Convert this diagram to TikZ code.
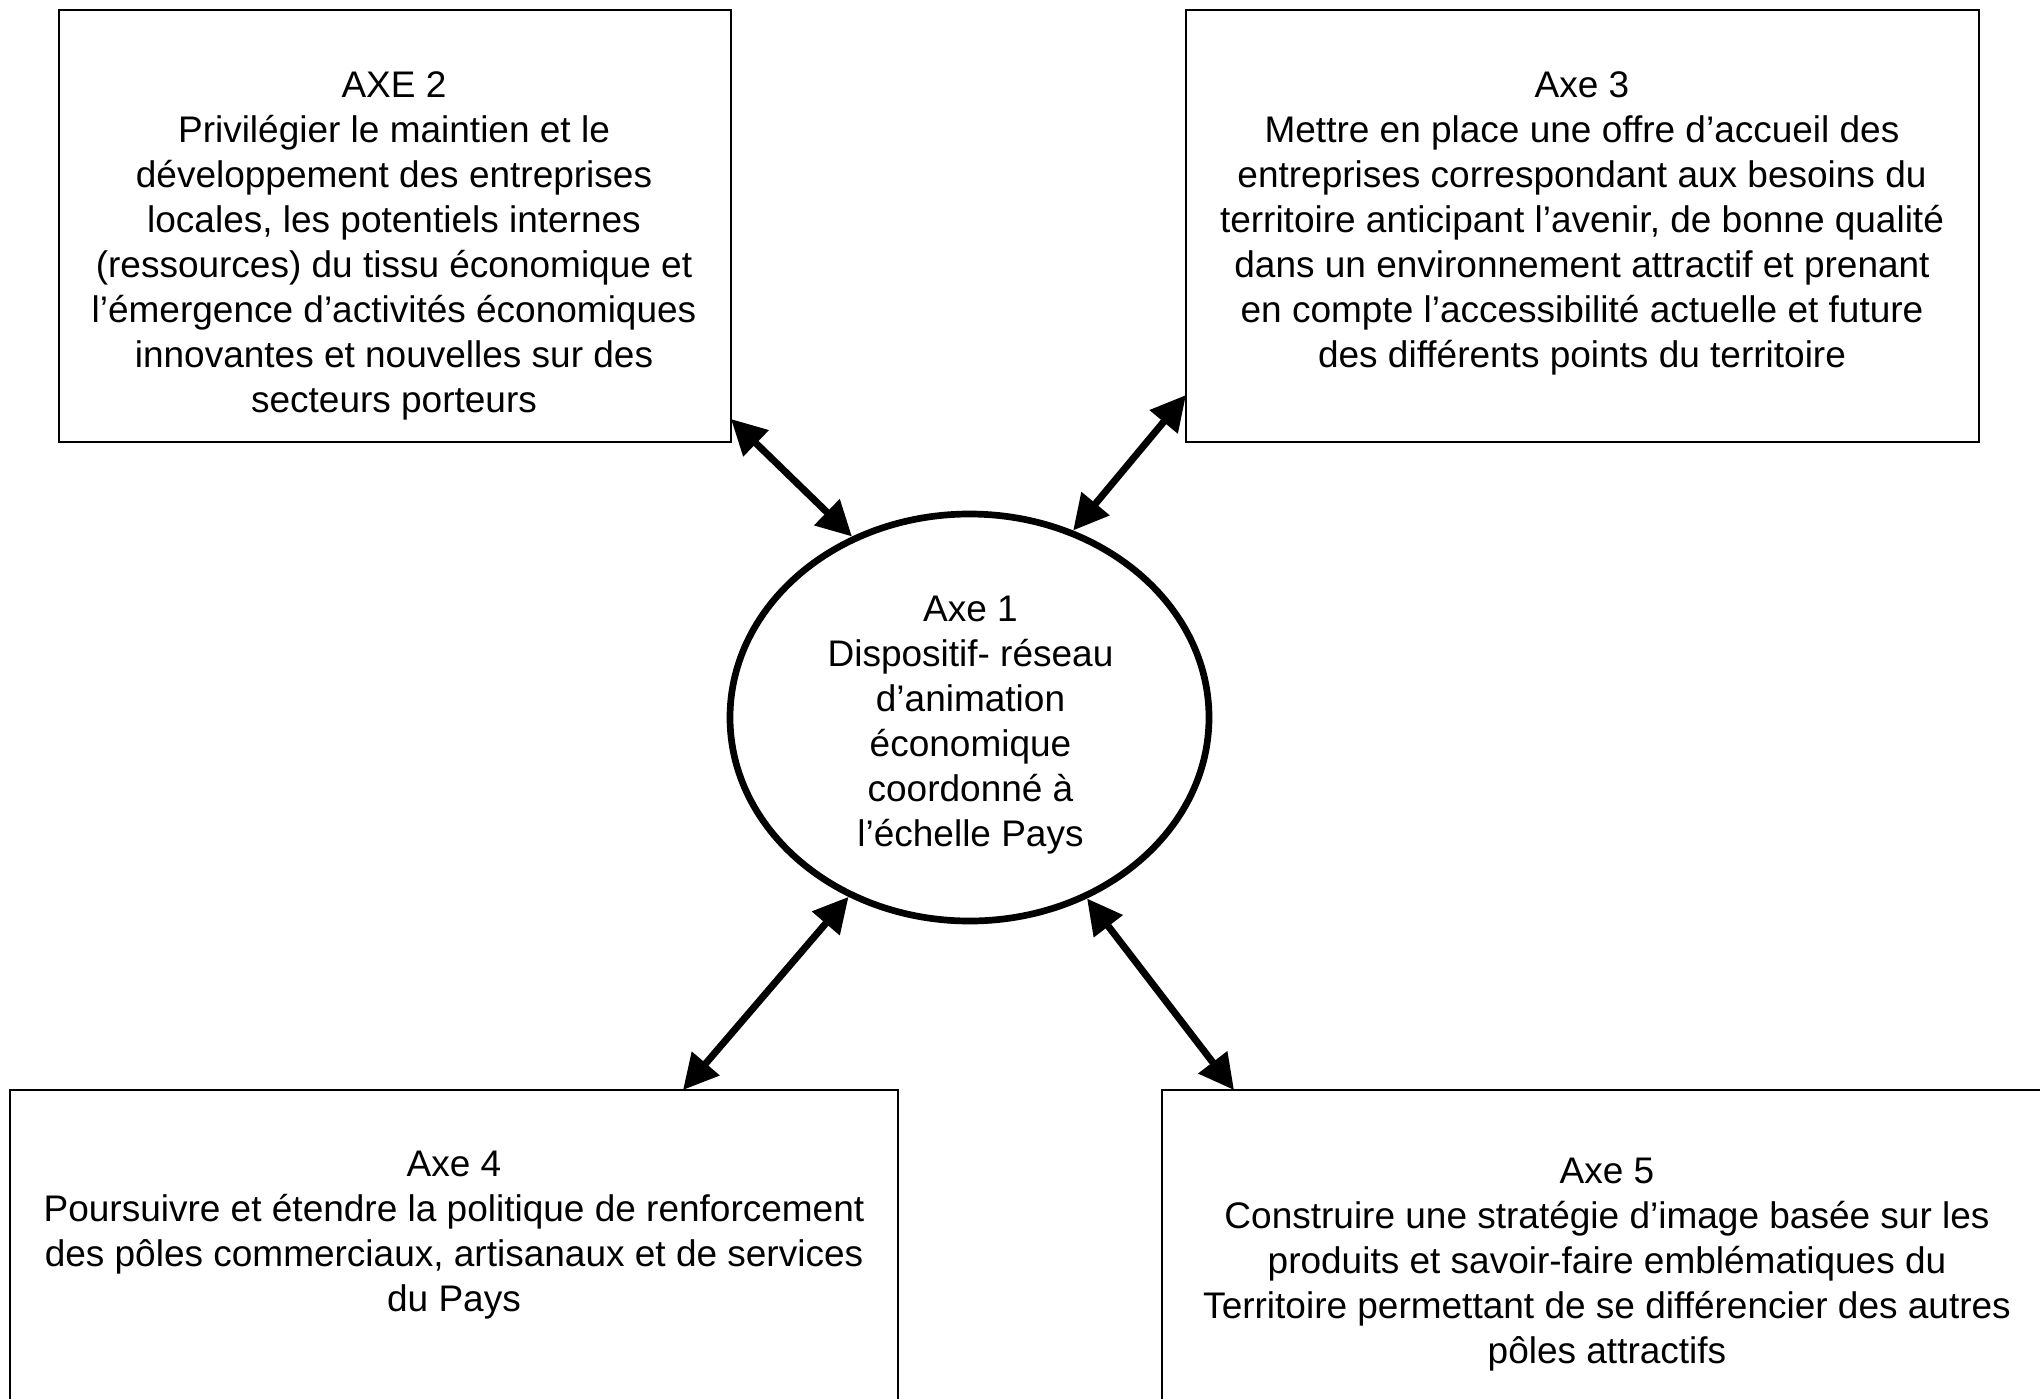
\documentclass[tikz,border=0pt]{standalone}
\usepackage{fontspec}
\setmainfont{Liberation Sans}
\usetikzlibrary{arrows.meta,shapes.geometric}
\begin{document}
\begin{tikzpicture}[x=1pt,y=-1pt,
  boxstyle/.style={draw,line width=2pt,inner sep=0pt,outer sep=0pt,anchor=north west},
  txt/.style={align=center,inner sep=0pt,font=\fontsize{37}{45}\selectfont},
  link/.style={line width=7pt,{Triangle[length=35pt,width=35pt]}-{Triangle[length=35pt,width=35pt]}}]
\useasboundingbox (0,0) rectangle (2040,1398);
\clip (0,0) rectangle (2040,1398);
\fill[white] (0,0) rectangle (2040,1398);
% boxes
\node[boxstyle,minimum width=672.5pt,minimum height=431.6pt] (b2) at (58.5,10.4) {};
\node[boxstyle,minimum width=793pt,minimum height=431.6pt] (b3) at (1186,10.4) {};
\node[boxstyle,minimum width=887.6pt,minimum height=400pt] (b4) at (10.4,1090) {};
\node[boxstyle,minimum width=950pt,minimum height=400pt] (b5) at (1162,1090) {};
% ellipse
\node[draw,ellipse,line width=6.7pt,minimum width=479pt,minimum height=407pt,inner sep=0pt] (el) at (969.5,717.5) {};
% texts
\node[txt] (t2) at (394,246) {AXE 2\\Privilégier le maintien et le\\développement des entreprises\\locales, les potentiels internes\\(ressources) du tissu économique et\\l’émergence d’activités économiques\\innovantes et nouvelles sur des\\secteurs porteurs};
\node[txt] (t3) at (1582,223.3) {Axe 3\\Mettre en place une offre d’accueil des\\entreprises correspondant aux besoins du\\territoire anticipant l’avenir, de bonne qualité\\dans un environnement attractif et prenant\\en compte l’accessibilité actuelle et future\\des différents points du territoire};
\node[txt] (t1) at (970.5,724.8) {Axe 1\\Dispositif- réseau\\d’animation\\économique\\coordonné à\\l’échelle Pays};
\node[txt] (t4) at (454,1235.5) {Axe 4\\Poursuivre et étendre la politique de renforcement\\des pôles commerciaux, artisanaux et de services\\du Pays};
\node[txt] (t5) at (1607,1265) {Axe 5\\Construire une stratégie d’image basée sur les\\produits et savoir-faire emblématiques du\\Territoire permettant de se différencier des autres\\pôles attractifs};
% connectors
\draw[link] ([yshift=23pt]b2.south east) -- (el.123.6);
\draw[link] ([yshift=47pt]b3.south west) -- (el.61.5);
\draw[link] ([xshift=-215pt]b4.north east) -- (el.236.3);
\draw[link] ([xshift=72pt]b5.north west) -- (el.303.9);
\end{tikzpicture}
\end{document}
